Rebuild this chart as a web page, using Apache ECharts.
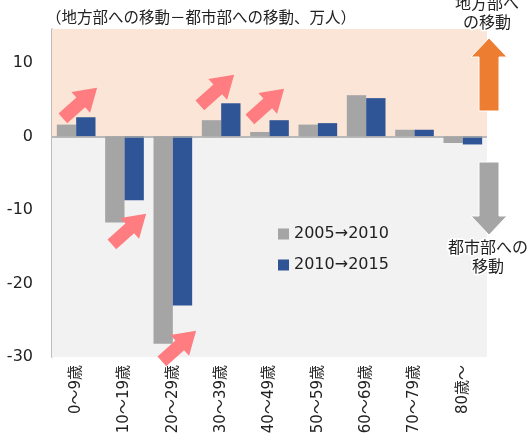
<!DOCTYPE html>
<html>
<head>
<meta charset="utf-8">
<script src="https://cdn.jsdelivr.net/npm/echarts@6/dist/echarts.min.js"></script>
<style>
	html, body { margin: 0; padding: 0; background: #fff; }
	#chart { width: 529px; height: 437px; }
</style>
</head>
<body>
<div id="chart"></div>
<script>
	// 年齢階級
	var ageGroups = ['0～9歳', '10～19歳', '20～29歳', '30～39歳', '40～49歳', '50～59歳', '60～69歳', '70～79歳', '80歳～']
	var seriesNames = ['2005→2010', '2010→2015']
	// 地方部への移動－都市部への移動（万人）
	var move0510 = [1.6, -11.7, -28.2, 2.2, 0.6, 1.6, 5.6, 0.9, -0.9]
	var move1015 = [2.6, -8.7, -23.0, 4.5, 2.2, 1.8, 5.2, 0.9, -1.1]
	var yTicks = [-30, -20, -10, 0, 10]
	var yMin = -30
	var yMax = 14.6

	var fontJp = "'DejaVu Sans', 'Noto Sans CJK JP', sans-serif"

	// ピンクの斜め矢印（右上向き）
	function pinkArrow(cx, cy) {
		return {
			type: 'polygon',
			x: cx,
			y: cy,
			rotation: Math.PI / 4.3,
			shape: {
				points: [[-23, -6.5], [1, -6.5], [1, -14], [23, 0], [1, 14], [1, 6.5], [-23, 6.5]]
			},
			style: { fill: '#FF7C80' },
			z: 100
		}
	}

	var chart = echarts.init(document.getElementById('chart'))
	chart.setOption({
		animation: false,
		textStyle: { fontFamily: fontJp },
		title: {
			text: '（地方部への移動－都市部への移動、万人）',
			left: 41,
			top: 6,
			textStyle: { fontSize: 15.5, fontWeight: 'normal', color: '#222', fontFamily: fontJp }
		},
		legend: {
			data: seriesNames,
			orient: 'vertical',
			left: 273,
			top: 221,
			itemWidth: 11,
			itemHeight: 11,
			itemGap: 15,
			icon: 'rect',
			textStyle: { fontSize: 16, color: '#222', fontFamily: fontJp }
		},
		grid: {
			left: 52,
			right: 42,
			top: 29,
			bottom: 80
		},
		xAxis: {
			type: 'category',
			data: ageGroups,
			position: 'bottom',
			axisLine: { show: false, onZero: false },
			axisTick: { show: false },
			axisLabel: {
				rotate: 90,
				interval: 0,
				margin: 8,
				fontSize: 15,
				color: '#222'
			}
		},
		yAxis: {
			type: 'value',
			min: yMin,
			max: yMax,
			interval: 10,
			axisLine: { show: true, lineStyle: { color: '#A6A6A6', width: 1.5 } },
			axisTick: { show: false },
			splitLine: { show: false },
			axisLabel: {
				customValues: yTicks,
				margin: 19,
				fontSize: 16,
				color: '#222'
			}
		},
		series: [{
				name: seriesNames[0],
				type: 'bar',
				data: move0510,
				barGap: 0,
				barCategoryGap: '20%',
				itemStyle: { color: '#A5A5A5' },
				markArea: {
					silent: true,
					data: [
						[{ yAxis: 0, itemStyle: { color: '#FBE5D6' } }, { yAxis: yMax }],
						[{ yAxis: yMin, itemStyle: { color: '#F2F2F2' } }, { yAxis: 0 }]
					]
				},
				markLine: {
					silent: true,
					symbol: 'none',
					label: { show: false },
					lineStyle: { color: '#A6A6A6', width: 1.5, type: 'solid' },
					data: [{ yAxis: 0 }]
				}
			},
			{
				name: seriesNames[1],
				type: 'bar',
				data: move1015,
				itemStyle: { color: '#2F5597' }
			}
		],
		graphic: [
			pinkArrow(80, 103),
			pinkArrow(217, 90),
			pinkArrow(267, 104),
			pinkArrow(129, 229),
			pinkArrow(179, 346),
			{
				// オレンジの上向き矢印
				type: 'polygon',
				shape: { points: [[479, 111], [479, 57], [471, 57], [489, 38], [507, 57], [499, 57], [499, 111]] },
				style: { fill: '#ED7D31', stroke: '#fff', lineWidth: 1 },
				z: 100
			},
			{
				// グレーの下向き矢印
				type: 'polygon',
				shape: { points: [[479, 162], [479, 216], [471, 216], [489, 235], [507, 216], [499, 216], [499, 162]] },
				style: { fill: '#A5A5A5', stroke: '#fff', lineWidth: 1 },
				z: 100
			},
			{
				type: 'text',
				x: 487,
				y: 14,
				style: {
					text: '地方部へ\nの移動',
					align: 'center',
					verticalAlign: 'middle',
					lineHeight: 19,
					font: '16px ' + fontJp,
					fill: '#222',
					stroke: '#fff',
					lineWidth: 3
				},
				z: 101
			},
			{
				type: 'text',
				x: 488,
				y: 258,
				style: {
					text: '都市部への\n移動',
					align: 'center',
					verticalAlign: 'middle',
					lineHeight: 19,
					font: '16px ' + fontJp,
					fill: '#222',
					stroke: '#fff',
					lineWidth: 3
				},
				z: 101
			}
		]
	})
</script>
</body>
</html>
